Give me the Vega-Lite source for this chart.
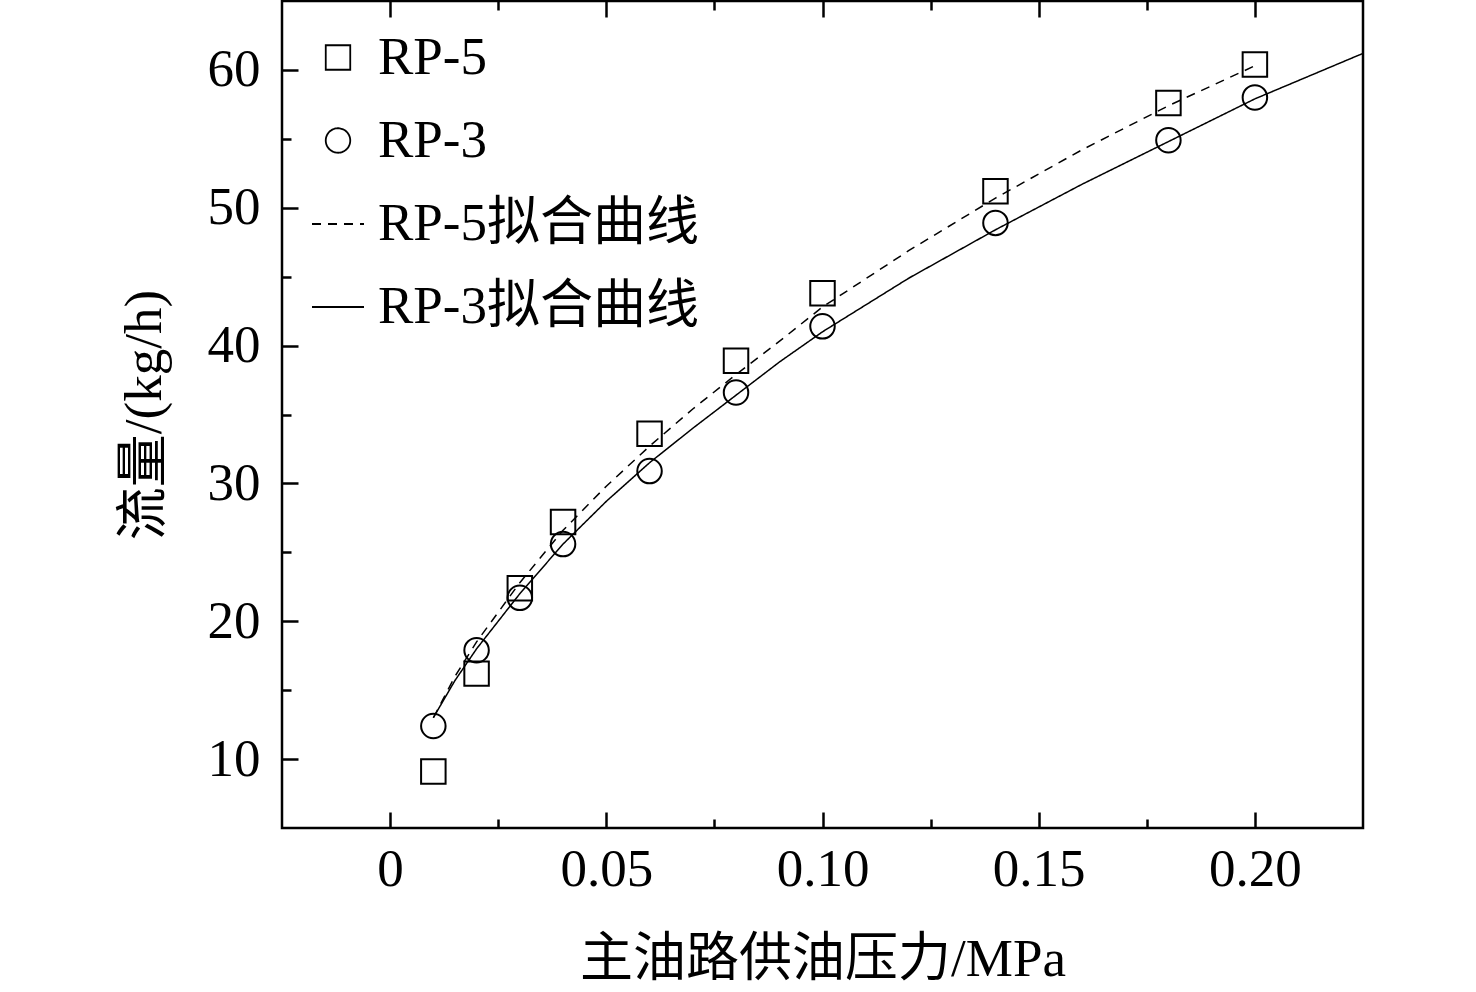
{
  "$schema": "https://vega.github.io/schema/vega-lite/v6.json",
  "width": 1081,
  "height": 827,
  "autosize": "none",
  "padding": {"left": 282, "top": 1, "right": 113, "bottom": 164},
  "background": "white",
  "config": {
    "view": {"stroke": "black", "strokeWidth": 2.5},
    "axis": {
      "grid": false,
      "domain": false,
      "labelFont": "Liberation Serif",
      "labelFontSize": 53,
      "labelColor": "black",
      "titleFont": "Liberation Serif, Noto Sans CJK SC",
      "titleFontSize": 53,
      "titleFontWeight": "normal",
      "titleColor": "black",
      "tickColor": "black",
      "tickWidth": 2.5
    },
    "legend": {
      "labelFont": "Liberation Serif, Noto Sans CJK SC",
      "labelFontSize": 53,
      "labelColor": "black",
      "labelLimit": 600,
      "symbolStrokeColor": "black",
      "symbolFillColor": "transparent"
    }
  },
  "datasets": {
    "points": [
      {"p": 0.01, "q": 9.1, "s": "RP-5"},
      {"p": 0.02, "q": 16.2, "s": "RP-5"},
      {"p": 0.03, "q": 22.4, "s": "RP-5"},
      {"p": 0.04, "q": 27.2, "s": "RP-5"},
      {"p": 0.06, "q": 33.6, "s": "RP-5"},
      {"p": 0.08, "q": 38.9, "s": "RP-5"},
      {"p": 0.10, "q": 43.8, "s": "RP-5"},
      {"p": 0.14, "q": 51.2, "s": "RP-5"},
      {"p": 0.18, "q": 57.6, "s": "RP-5"},
      {"p": 0.20, "q": 60.4, "s": "RP-5"},
      {"p": 0.01, "q": 12.4, "s": "RP-3"},
      {"p": 0.02, "q": 17.9, "s": "RP-3"},
      {"p": 0.03, "q": 21.7, "s": "RP-3"},
      {"p": 0.04, "q": 25.6, "s": "RP-3"},
      {"p": 0.06, "q": 30.9, "s": "RP-3"},
      {"p": 0.08, "q": 36.6, "s": "RP-3"},
      {"p": 0.10, "q": 41.4, "s": "RP-3"},
      {"p": 0.14, "q": 48.9, "s": "RP-3"},
      {"p": 0.18, "q": 54.9, "s": "RP-3"},
      {"p": 0.20, "q": 58.0, "s": "RP-3"}
    ],
    "fits": [
      {"p": 0.01, "q": 13.0, "s": "RP-5拟合曲线"},
      {"p": 0.015, "q": 16.0, "s": "RP-5拟合曲线"},
      {"p": 0.02, "q": 18.5, "s": "RP-5拟合曲线"},
      {"p": 0.03, "q": 22.8, "s": "RP-5拟合曲线"},
      {"p": 0.04, "q": 26.6, "s": "RP-5拟合曲线"},
      {"p": 0.05, "q": 29.8, "s": "RP-5拟合曲线"},
      {"p": 0.06, "q": 32.7, "s": "RP-5拟合曲线"},
      {"p": 0.07, "q": 35.4, "s": "RP-5拟合曲线"},
      {"p": 0.08, "q": 37.9, "s": "RP-5拟合曲线"},
      {"p": 0.09, "q": 40.3, "s": "RP-5拟合曲线"},
      {"p": 0.10, "q": 42.8, "s": "RP-5拟合曲线"},
      {"p": 0.12, "q": 46.9, "s": "RP-5拟合曲线"},
      {"p": 0.14, "q": 50.7, "s": "RP-5拟合曲线"},
      {"p": 0.16, "q": 54.2, "s": "RP-5拟合曲线"},
      {"p": 0.18, "q": 57.4, "s": "RP-5拟合曲线"},
      {"p": 0.20, "q": 60.3, "s": "RP-5拟合曲线"},
      {"p": 0.01, "q": 13.0, "s": "RP-3拟合曲线"},
      {"p": 0.015, "q": 15.7, "s": "RP-3拟合曲线"},
      {"p": 0.02, "q": 18.0, "s": "RP-3拟合曲线"},
      {"p": 0.03, "q": 22.0, "s": "RP-3拟合曲线"},
      {"p": 0.04, "q": 25.6, "s": "RP-3拟合曲线"},
      {"p": 0.05, "q": 28.7, "s": "RP-3拟合曲线"},
      {"p": 0.06, "q": 31.5, "s": "RP-3拟合曲线"},
      {"p": 0.07, "q": 34.0, "s": "RP-3拟合曲线"},
      {"p": 0.08, "q": 36.4, "s": "RP-3拟合曲线"},
      {"p": 0.09, "q": 38.8, "s": "RP-3拟合曲线"},
      {"p": 0.10, "q": 41.0, "s": "RP-3拟合曲线"},
      {"p": 0.12, "q": 44.9, "s": "RP-3拟合曲线"},
      {"p": 0.14, "q": 48.4, "s": "RP-3拟合曲线"},
      {"p": 0.16, "q": 51.7, "s": "RP-3拟合曲线"},
      {"p": 0.18, "q": 54.8, "s": "RP-3拟合曲线"},
      {"p": 0.20, "q": 57.9, "s": "RP-3拟合曲线"},
      {"p": 0.225, "q": 61.2, "s": "RP-3拟合曲线"}
    ]
  },
  "layer": [
    {
      "data": {"name": "fits"},
      "mark": {"type": "line", "color": "black", "strokeWidth": 1.5},
      "encoding": {
        "x": {
          "field": "p", "type": "quantitative",
          "scale": {"domain": [-0.025, 0.225], "nice": false, "zero": false},
          "axis": {
            "orient": "bottom", "values": [0, 0.05, 0.1, 0.15, 0.2], "ticks": false,
            "labelPadding": 15, "labelExpr": "datum.value == 0 ? '0' : format(datum.value, '.2f')",
            "title": "主油路供油压力/MPa", "titleY": 147, "titleBaseline": "alphabetic"
          }
        },
        "y": {
          "field": "q", "type": "quantitative",
          "scale": {"domain": [5, 65], "nice": false, "zero": false},
          "axis": {
            "orient": "left", "values": [10, 20, 30, 40, 50, 60], "ticks": false,
            "labelPadding": 22,
            "title": "流量/(kg/h)", "titleX": -122, "titleY": 413.5, "titleAngle": -90,
            "titleBaseline": "alphabetic", "titleAlign": "center"
          }
        },
        "strokeDash": {
          "field": "s", "type": "nominal",
          "scale": {"domain": ["RP-5", "RP-3", "RP-5拟合曲线", "RP-3拟合曲线"], "range": [[1, 0], [1, 0], [9, 7], [1, 0]]},
          "legend": {"title": null, "orient": "none", "legendX": 29, "legendY": 30, "labelOffset": 13, "rowPadding": 29, "symbolStrokeWidth": 1.8}
        }
      }
    },
    {
      "data": {"name": "points"},
      "mark": {"type": "point", "filled": false, "color": "black", "strokeWidth": 2, "opacity": 1},
      "encoding": {
        "x": {"field": "p", "type": "quantitative", "axis": {"orient": "bottom", "values": [0, 0.05, 0.1, 0.15, 0.2], "labels": false, "tickSize": -16, "title": null}},
        "y": {"field": "q", "type": "quantitative", "axis": {"orient": "left", "values": [10, 20, 30, 40, 50, 60], "labels": false, "tickSize": -16, "title": null}},
        "shape": {
          "field": "s", "type": "nominal",
          "scale": {"domain": ["RP-5", "RP-3", "RP-5拟合曲线", "RP-3拟合曲线"], "range": ["square", "circle", "stroke", "stroke"]},
          "legend": {"title": null, "orient": "none", "legendX": 29, "legendY": 30, "labelOffset": 13, "rowPadding": 29, "symbolStrokeWidth": 1.8}
        },
        "size": {
          "field": "s", "type": "nominal",
          "scale": {"type": "ordinal", "domain": ["RP-5", "RP-3", "RP-5拟合曲线", "RP-3拟合曲线"], "range": [600, 600, 2704, 2704]},
          "legend": {"title": null, "orient": "none", "legendX": 29, "legendY": 30, "labelOffset": 13, "rowPadding": 29, "symbolStrokeWidth": 1.8}
        }
      }
    },
    {
      "data": {"name": "fits"},
      "mark": {"type": "point", "opacity": 0},
      "encoding": {
        "x": {"field": "p", "type": "quantitative", "axis": {"orient": "bottom", "values": [0.025, 0.075, 0.125, 0.175], "labels": false, "tickSize": -9, "title": null}},
        "y": {"field": "q", "type": "quantitative", "axis": {"orient": "left", "values": [15, 25, 35, 45, 55], "labels": false, "tickSize": -9, "title": null}}
      }
    },
    {
      "data": {"name": "fits"},
      "mark": {"type": "point", "opacity": 0},
      "encoding": {
        "x": {"field": "p", "type": "quantitative", "axis": {"orient": "top", "values": [0, 0.05, 0.1, 0.15, 0.2], "labels": false, "tickSize": -16, "title": null}},
        "y": {"field": "q", "type": "quantitative", "axis": null}
      }
    },
    {
      "data": {"name": "fits"},
      "mark": {"type": "point", "opacity": 0},
      "encoding": {
        "x": {"field": "p", "type": "quantitative", "axis": {"orient": "top", "values": [0.025, 0.075, 0.125, 0.175], "labels": false, "tickSize": -9, "title": null}},
        "y": {"field": "q", "type": "quantitative", "axis": null}
      }
    }
  ],
  "resolve": {"axis": {"x": "independent", "y": "independent"}}
}
